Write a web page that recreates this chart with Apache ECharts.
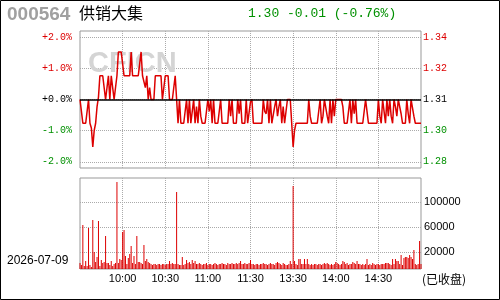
<!DOCTYPE html>
<html>
<head>
<meta charset="utf-8">
<script src="https://cdn.jsdelivr.net/npm/echarts@6/dist/echarts.min.js"></script>
<style>
  html, body { margin: 0; padding: 0; background: #fff; }
  #main { width: 500px; height: 300px; }
</style>
</head>
<body>
<div id="main"></div>
<script>
var prevClose = 1.31;

// 1-minute prices, 9:30-11:30 then 13:01-15:00
var prices = [
  1.31,1.305,1.30,1.30,1.30,1.30,1.31,1.30,1.298,1.29,
  1.297,1.30,1.307,1.311,1.32,1.32,1.32,1.32,1.31,1.31,
  1.32,1.31,1.32,1.32,1.31,1.31,1.32,1.33,1.33,1.33,
  1.33,1.32,1.32,1.32,1.32,1.32,1.33,1.32,1.32,1.32,
  1.32,1.32,1.325,1.33,1.32,1.32,1.315,1.32,1.31,1.315,
  1.31,1.31,1.31,1.32,1.32,1.32,1.32,1.32,1.31,1.31,
  1.32,1.32,1.32,1.31,1.31,1.31,1.31,1.32,1.31,1.30,
  1.31,1.30,1.30,1.30,1.30,1.31,1.30,1.31,1.30,1.305,
  1.31,1.30,1.307,1.30,1.31,1.303,1.30,1.30,1.30,1.30,
  1.31,1.305,1.31,1.30,1.31,1.30,1.30,1.30,1.30,1.31,
  1.30,1.30,1.30,1.30,1.30,1.31,1.303,1.31,1.30,1.30,
  1.30,1.31,1.304,1.31,1.30,1.30,1.30,1.31,1.30,1.30,
  1.309,1.31,1.30,1.30,1.30,1.30,1.30,1.30,1.30,1.31,
  1.305,1.304,1.31,1.30,1.31,1.30,1.30,1.307,1.31,1.303,
  1.307,1.31,1.30,1.307,1.30,1.30,1.31,1.31,1.31,1.30,
  1.29,1.297,1.30,1.30,1.30,1.30,1.30,1.30,1.30,1.30,
  1.30,1.31,1.303,1.30,1.30,1.30,1.30,1.30,1.30,1.31,
  1.30,1.303,1.31,1.31,1.303,1.30,1.31,1.30,1.31,1.303,
  1.31,1.31,1.31,1.31,1.31,1.307,1.30,1.30,1.30,1.305,
  1.31,1.30,1.31,1.304,1.31,1.30,1.30,1.30,1.30,1.30,
  1.30,1.31,1.305,1.30,1.30,1.30,1.30,1.30,1.30,1.30,
  1.31,1.303,1.30,1.31,1.305,1.30,1.31,1.303,1.31,1.303,
  1.30,1.31,1.307,1.303,1.31,1.31,1.304,1.30,1.30,1.30,
  1.31,1.304,1.30,1.31,1.31,1.303,1.30,1.30,1.30,1.30,
  1.30
];

var volumes = [
  9600,6400,70400,4800,12800,4800,65600,6400,3200,78400,
  27200,11200,19200,76800,4800,14400,9600,11200,52800,9600,
  9600,6400,12800,4800,8000,9600,139200,9600,16000,14400,
  59200,62400,20800,8000,17600,24000,36800,9600,20800,8000,
  52800,11200,11200,9600,8000,38400,12800,16000,11200,9600,
  8000,6400,8000,8000,6400,8000,8000,6400,8000,8000,
  6400,8000,8000,12800,8000,9600,8000,8000,123200,8000,
  6400,6400,19200,6400,8000,14400,9600,11200,8000,14400,
  9600,12800,8000,8000,9600,8000,6400,8000,8000,9600,
  6400,8000,8000,6400,8000,9600,8000,6400,8000,8000,
  9600,8000,8000,6400,9600,8000,8000,9600,8000,8000,
  9600,8000,9600,12800,8000,8000,9600,8000,8000,9600,
  14400,8000,8000,6400,8000,8000,6400,8000,8000,9600,
  8000,8000,6400,8000,9600,8000,8000,6400,9600,11200,
  9600,8000,6400,9600,8000,6400,6400,8000,12800,8000,
  132800,12800,8000,6400,16000,16000,8000,8000,16000,8000,
  16000,8000,6400,8000,6400,8000,8000,6400,8000,8000,
  6400,8000,9600,8000,9600,8000,6400,8000,6400,8000,
  11200,9600,8000,6400,8000,12800,11200,8000,9600,6400,
  8000,8000,11200,9600,8000,12800,8000,8000,6400,8000,
  6400,8000,16000,6400,8000,6400,9600,8000,6400,8000,
  8000,6400,8000,8000,8000,9600,9600,9600,8000,6400,
  16000,8000,16000,12800,12800,8000,22400,6400,17600,19200,
  19200,17600,22400,19200,16000,30400,8000,6400,8000,44800,
  8000
];

var timeTicks = ['10:00', '10:30', '11:00', '11:30', '13:30', '14:00', '14:30'];
var pctTicks = [-2, -1, 0, 1, 2];
var pctLabels = ['-2.0%', '-1.0%', '+0.0%', '+1.0%', '+2.0%'];
var priceLabels = ['1.28', '1.30', '1.31', '1.32', '1.34'];
var volTicks = [27200, 67200, 107200];
var volLabels = ['20000', '60000', '100000'];

var times = [];
function hm(m) { return Math.floor(m / 60) + ':' + String(m % 60).padStart(2, '0'); }
for (var m = 570; m <= 690; m++) times.push(hm(m));
for (var m = 781; m <= 900; m++) times.push(hm(m));

var pct = prices.map(function (p) { return (p - prevClose) / prevClose * 100; });

var RED = '#dd0000', GREEN = '#009000', GRID = '#aaaaaa', BORDER = '#999999';
function isTick(i, v) { return timeTicks.indexOf(v) >= 0; }
function signColor(v) { return v > 0 ? RED : (v < 0 ? GREEN : '#000'); }
var dotted = { show: true, interval: isTick, lineStyle: { color: GRID, type: 'dotted', width: 1 } };

var chart = echarts.init(document.getElementById('main'));
chart.setOption({
  animation: false,
  title: [
    { text: '000564', left: 7, top: 5, padding: 0, textStyle: { fontSize: 19, fontWeight: 'bold', color: '#a0a0a0', fontFamily: 'Liberation Sans' } },
    { text: '供销大集', left: 79, top: 5, padding: 0, textStyle: { fontSize: 16, fontWeight: 'normal', color: '#000', fontFamily: 'Noto Sans CJK SC' } },
    { text: '1.30 -0.01 (-0.76%)', left: 248, top: 7, padding: 0, textStyle: { fontSize: 13, fontWeight: 'normal', color: GREEN, fontFamily: 'Liberation Mono' } },
    { text: 'CFICN', left: 88, top: 49, padding: 0, z: 0, textStyle: { fontSize: 29, fontWeight: 'bold', color: '#d4d4d4', fontFamily: 'Liberation Sans' } },
    { text: '2026-07-09', left: 7, top: 255, padding: 0, textStyle: { fontSize: 12, fontWeight: 'normal', color: '#000', fontFamily: 'Liberation Sans' } },
    { text: '(已收盘)', left: 422, top: 273, padding: 0, textStyle: { fontSize: 12, fontWeight: 'normal', color: '#000', fontFamily: 'Noto Sans CJK SC' } }
  ],
  graphic: [
    { type: 'rect', shape: { x: 0.5, y: 0.5, width: 499, height: 299 }, style: { fill: 'none', stroke: '#000', lineWidth: 1 }, z: 100 }
  ],
  grid: [
    { left: 80, top: 31, width: 341, height: 137, show: true, borderColor: BORDER, borderWidth: 1 },
    { left: 80, top: 178, width: 341, height: 91, show: true, borderColor: BORDER, borderWidth: 1 }
  ],
  xAxis: [
    { type: 'category', gridIndex: 0, data: times, boundaryGap: false,
      axisLine: { show: false }, axisTick: { show: false }, axisLabel: { show: false }, splitLine: dotted },
    { type: 'category', gridIndex: 1, data: times, boundaryGap: false,
      axisLine: { show: false }, axisTick: { show: false },
      axisLabel: { interval: isTick, fontSize: 11, color: '#000', margin: 4, fontFamily: 'Liberation Sans' },
      splitLine: dotted }
  ],
  yAxis: [
    { type: 'value', gridIndex: 0, position: 'left', min: -2.2, max: 2.2,
      axisLine: { show: false }, axisTick: { show: false, customValues: pctTicks },
      axisLabel: { customValues: pctTicks, margin: 8, fontSize: 10, fontFamily: 'Liberation Mono',
        formatter: function (v) { return pctLabels[pctTicks.indexOf(v)]; }, color: signColor },
      splitLine: { show: true, lineStyle: { color: GRID, type: 'dotted', width: 1 } } },
    { type: 'value', gridIndex: 0, position: 'right', min: -2.2, max: 2.2,
      axisLine: { show: false }, axisTick: { show: false, customValues: pctTicks },
      axisLabel: { customValues: pctTicks, margin: 2, fontSize: 10, fontFamily: 'Liberation Mono',
        formatter: function (v) { return priceLabels[pctTicks.indexOf(v)]; }, color: signColor },
      splitLine: { show: false } },
    { type: 'value', gridIndex: 1, position: 'right', min: 0, max: 145600,
      axisLine: { show: false }, axisTick: { show: false, customValues: volTicks },
      axisLabel: { customValues: volTicks, margin: 3, fontSize: 11, color: '#000', fontFamily: 'Liberation Sans',
        formatter: function (v) { return volLabels[volTicks.indexOf(v)]; } },
      splitLine: { show: true, lineStyle: { color: GRID, type: 'dotted', width: 1 } } }
  ],
  series: [
    { type: 'line', xAxisIndex: 0, yAxisIndex: 0, data: pct, symbol: 'none', z: 3,
      lineStyle: { color: RED, width: 1.5 },
      markLine: { silent: true, symbol: 'none', label: { show: false },
        lineStyle: { color: '#000', type: 'solid', width: 1.5 }, data: [{ yAxis: 0 }] } },
    { type: 'bar', xAxisIndex: 1, yAxisIndex: 2, data: volumes, barWidth: 1,
      itemStyle: { color: RED } }
  ]
});
</script>
</body>
</html>
